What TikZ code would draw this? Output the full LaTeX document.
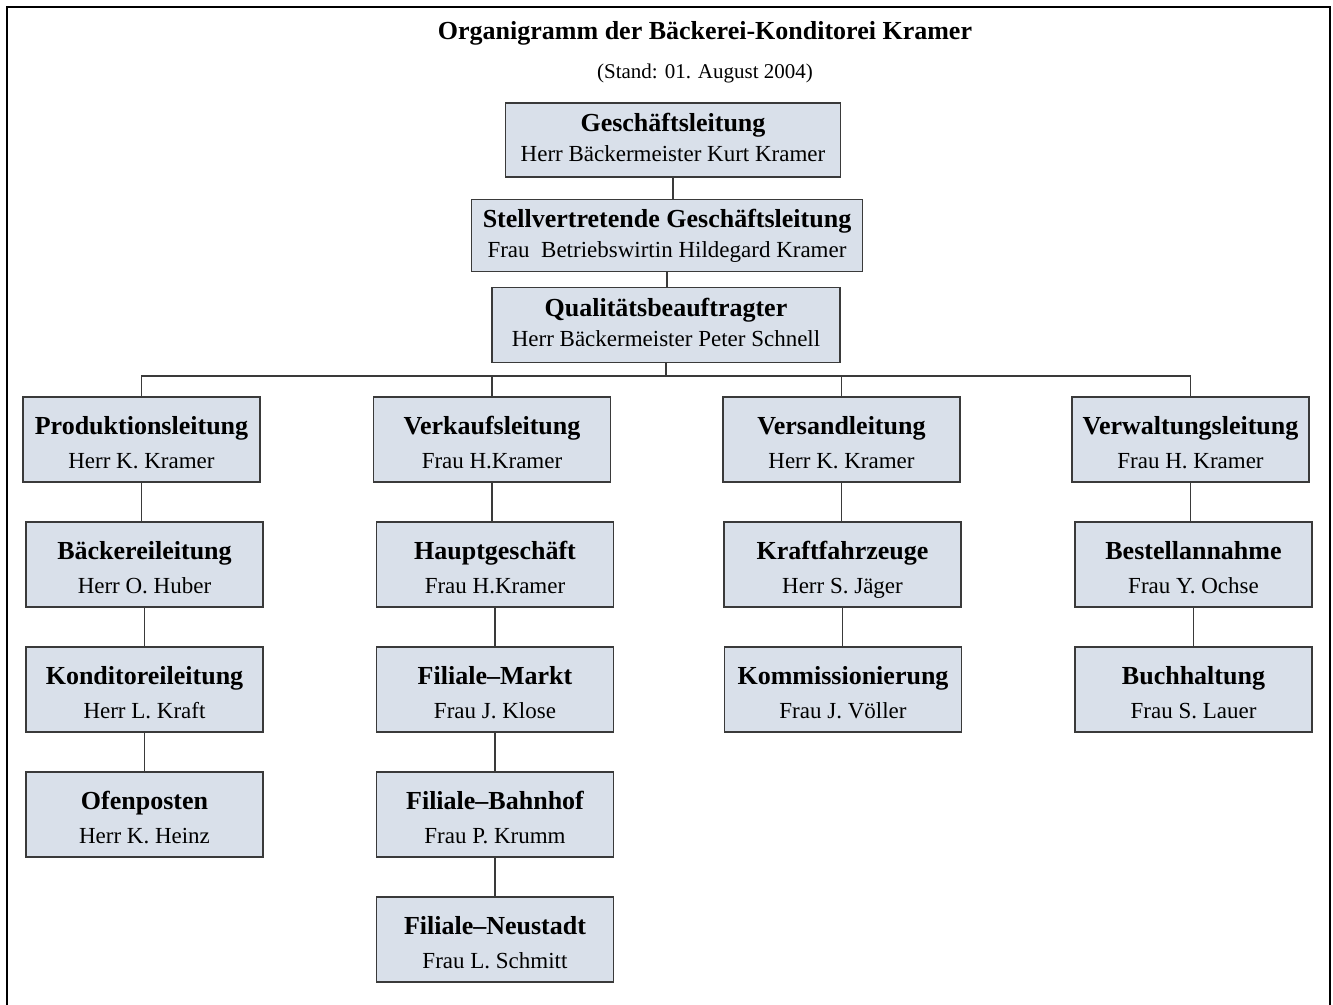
\documentclass[tikz,border=0pt]{standalone}
\usepackage{fontspec}
\setmainfont{Liberation Serif}
\usepackage{tikz}
\usetikzlibrary{calc,positioning}
\usepackage{xcolor}
\definecolor{boxfill}{HTML}{D9E0EA}
\definecolor{boxline}{HTML}{3A3A3A}

% header height, line gap, title, person
\newcommand{\eintrag}[4]{{\fontsize{13}{15}\selectfont\bfseries\rule{0pt}{#1}#3}\\[#2]#4\rule[-2.5pt]{0pt}{0pt}}
\newcommand{\stelle}{\eintrag{14pt}{3pt}}
\newcommand{\leitung}{\eintrag{9.5pt}{1pt}}

\begin{document}
\begin{tikzpicture}[x=0.5pt, y=-0.5pt,
    box/.style={draw=boxline, line width=0.75pt, fill=boxfill, align=center,
      inner sep=0pt, minimum width=118.5pt, minimum height=42.5pt,
      font=\fontsize{11.5}{14}\selectfont},
    top/.style={box, minimum height=37pt},
    link/.style={draw=boxline, line width=0.6pt}]
    \useasboundingbox (0,0) rectangle (1333,1005);

    % Frame (open at the bottom)
    \draw[line width=1pt] (7,1005) -- (7,7) -- (1330,7) -- (1330,1005);

    % Title
    \node[font=\fontsize{13}{15}\selectfont\bfseries] (titel) at (705,33)
        {Organigramm der Bäckerei-Konditorei Kramer};
    \node[font=\fontsize{10.5}{12}\selectfont] (stand) at (705,73)
        {(Stand: 01. August 2004)};

    % Management
    \node[top, minimum width=167.5pt] (gl) at (673,140)
        {\leitung{Geschäftsleitung}{Herr Bäckermeister Kurt Kramer}};
    \node[top, minimum width=195.5pt, minimum height=36pt] (sgl) at (667,235.5)
        {\leitung{Stellvertretende Geschäftsleitung}{Frau\ \ Betriebswirtin Hildegard Kramer}};
    \node[top, minimum width=174pt, minimum height=37.5pt] (qb) at (666,325)
        {\leitung{Qualitätsbeauftragter}{Herr Bäckermeister Peter Schnell}};

    % Departments
    \node[box] (prod) at (141.5,439.5) {\stelle{Produktionsleitung}{Herr K. Kramer}};
    \node[box] (verk) at (492,439.5) {\stelle{Verkaufsleitung}{Frau H.Kramer}};
    \node[box] (vers) at (841.5,439.5) {\stelle{Versandleitung}{Herr K. Kramer}};
    \node[box] (verw) at (1190.5,439.5) {\stelle{Verwaltungsleitung}{Frau H. Kramer}};

    % Production
    \node[box] (baeck) at (144.5,564.5) {\stelle{Bäckereileitung}{Herr O. Huber}};
    \node[box] (kond) at (144.5,689.5) {\stelle{Konditoreileitung}{Herr L. Kraft}};
    \node[box] (ofen) at (144.5,814.5) {\stelle{Ofenposten}{Herr K. Heinz}};

    % Sales
    \node[box] (haupt) at (495,564.5) {\stelle{Hauptgeschäft}{Frau H.Kramer}};
    \node[box] (markt) at (495,689.5) {\stelle{Filiale--Markt}{Frau J. Klose}};
    \node[box] (bahnhof) at (495,814.5) {\stelle{Filiale--Bahnhof}{Frau P. Krumm}};
    \node[box] (neustadt) at (495,939.5) {\stelle{Filiale--Neustadt}{Frau L. Schmitt}};

    % Shipping
    \node[box] (kfz) at (842.5,564.5) {\stelle{Kraftfahrzeuge}{Herr S. Jäger}};
    \node[box] (komm) at (843,689.5) {\stelle{Kommissionierung}{Frau J. Völler}};

    % Administration
    \node[box] (best) at (1193.5,564.5) {\stelle{Bestellannahme}{Frau Y. Ochse}};
    \node[box] (buch) at (1193.5,689.5) {\stelle{Buchhaltung}{Frau S. Lauer}};

    % Connectors
    \coordinate (bus) at (668,376);
    \draw[link] (gl.south) -- (gl.south |- sgl.north);
    \draw[link] (sgl.south) -- (sgl.south |- qb.north);
    \draw[link] (qb.south) -- (qb.south |- bus);
    \draw[link] (prod.north) -- (prod.north |- bus) -- (verw.north |- bus) -- (verw.north);
    \foreach \n in {verk,vers}
        \draw[link] (\n.north) -- (\n.north |- bus);
    \foreach \a/\b in {prod/baeck,baeck/kond,kond/ofen,verk/haupt,haupt/markt,
        markt/bahnhof,bahnhof/neustadt,vers/kfz,kfz/komm,verw/best,best/buch}
        \draw[link] (\a.south) -- (\a.south |- \b.north);
\end{tikzpicture}
\end{document}
